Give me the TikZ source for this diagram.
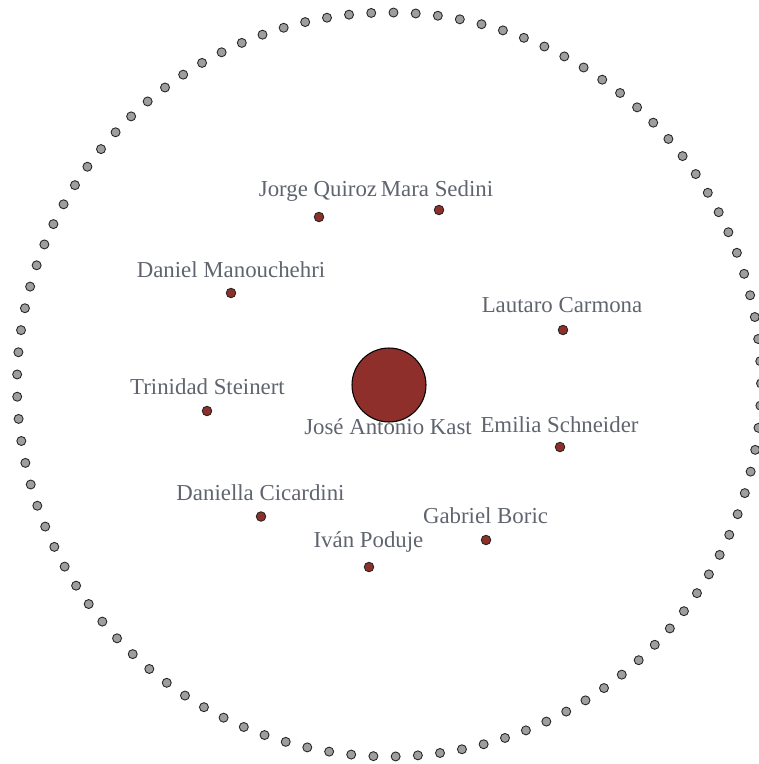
\documentclass[tikz,border=0pt]{standalone}
\usepackage{fontspec}
\setmainfont{Liberation Serif}
\usepackage{xcolor}

\definecolor{nodered}{RGB}{143,47,43}
\definecolor{ringgray}{RGB}{158,158,158}
\definecolor{labelgray}{RGB}{95,100,110}

\tikzset{
  ringdot/.style={circle, draw=black!85, fill=ringgray, line width=0.5pt, inner sep=0pt, minimum size=0.18cm},
  person/.style={circle, draw=black!85, fill=nodered, line width=0.5pt, inner sep=0pt, minimum size=0.19cm},
  centre/.style={circle, draw=black, fill=nodered, line width=0.6pt, inner sep=0pt, minimum size=1.48cm},
  personlabel/.style={anchor=base, inner sep=0pt, text=labelgray, font=\fontsize{13}{15}\selectfont}
}

\begin{document}
\begin{tikzpicture}[x=0.02cm, y=-0.02cm]
\useasboundingbox (0,0) rectangle (759,764);
\clip (0,0) rectangle (759,764);

% Draw the outer ring of dots
\foreach \k in {0,...,104}
  \node[ringdot] (r\k) at ({389+372*cos(89.31+\k*3.428571)}, {384.5-372*sin(89.31+\k*3.428571)}) {};

% Draw the centre node
\node[centre] (kast) at (389,385) {};
\node[personlabel] (kastlabel) at (388,434) {José Antonio Kast};

% Draw the people around it
\node[person] (quiroz) at (319,217) {};
\node[person] (sedini) at (439,210) {};
\node[person] (manouchehri) at (231,293) {};
\node[person] (carmona) at (563,330) {};
\node[person] (steinert) at (207,411) {};
\node[person] (schneider) at (560,447) {};
\node[person] (cicardini) at (261,516.5) {};
\node[person] (boric) at (486,540) {};
\node[person] (poduje) at (369,567) {};

% Their labels
\node[personlabel] (quirozlabel) at (318,196) {Jorge Quiroz};
\node[personlabel] (sedinilabel) at (437,196) {Mara Sedini};
\node[personlabel] (manouchehrilabel) at (231,277) {Daniel Manouchehri};
\node[personlabel] (carmonalabel) at (562,312) {Lautaro Carmona};
\node[personlabel] (steinertlabel) at (207.5,394) {Trinidad Steinert};
\node[personlabel] (schneiderlabel) at (559.5,432) {Emilia Schneider};
\node[personlabel] (cicardinilabel) at (260.5,500) {Daniella Cicardini};
\node[personlabel] (boriclabel) at (485.5,523) {Gabriel Boric};
\node[personlabel] (podujelabel) at (368.5,547) {Iván Poduje};

\end{tikzpicture}
\end{document}
